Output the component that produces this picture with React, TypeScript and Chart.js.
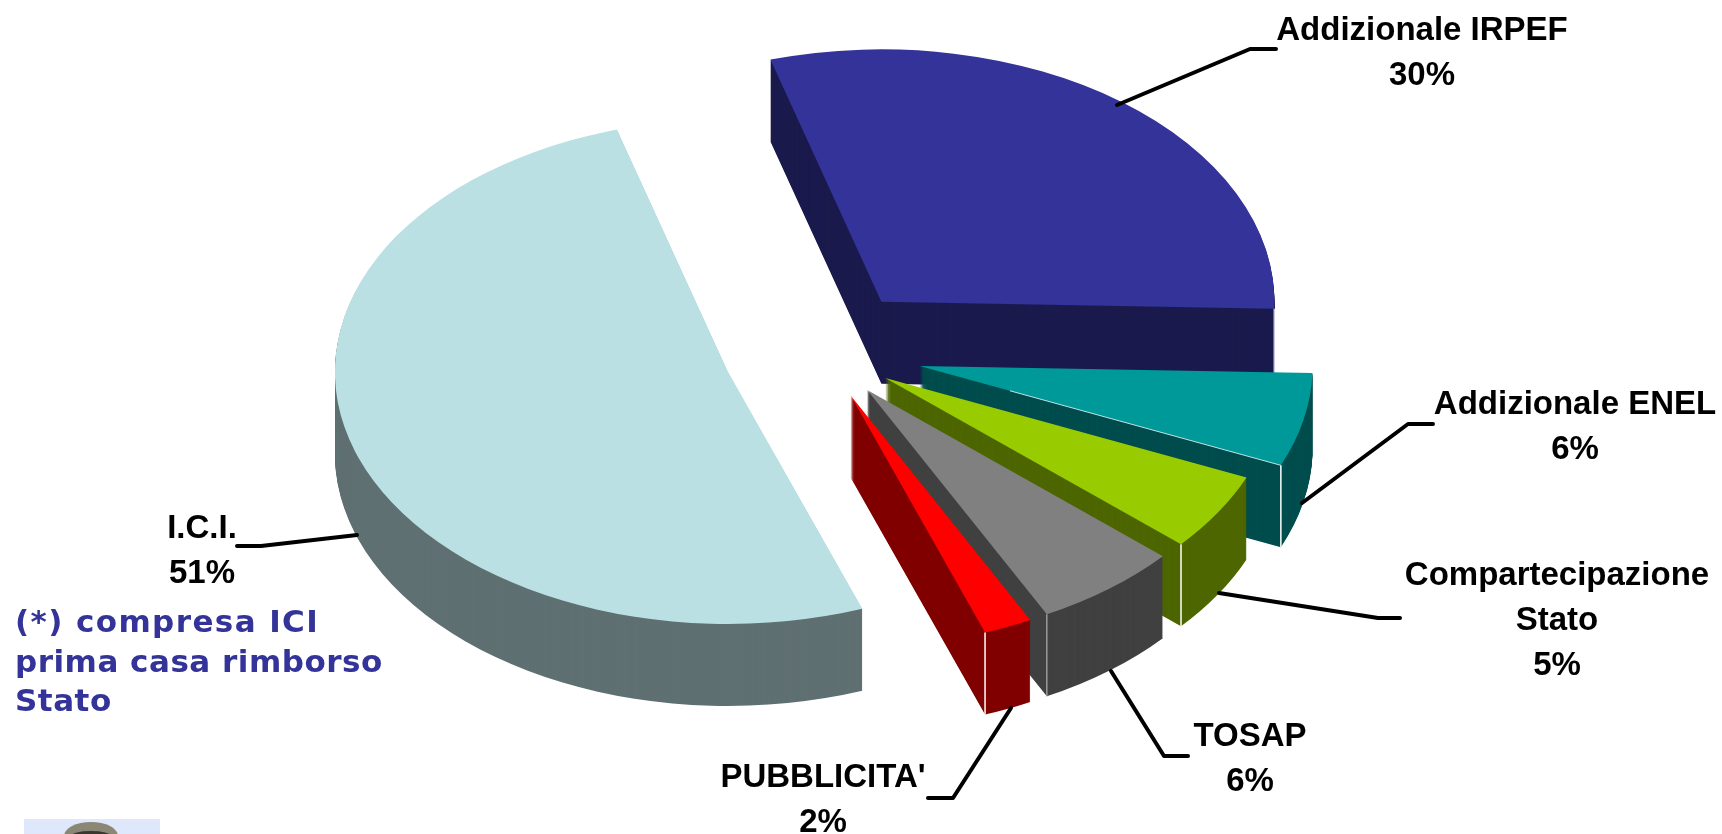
import React, { useEffect, useRef } from "react";
import { Chart, registerables } from "chart.js";

Chart.register(...registerables);

// ---- data ----
const categories = ["I.C.I.", "Addizionale IRPEF", "Addizionale ENEL", "Compartecipazione Stato", "TOSAP", "PUBBLICITA'"];
const labelLines = [["I.C.I."], ["Addizionale IRPEF"], ["Addizionale ENEL"], ["Compartecipazione", "Stato"], ["TOSAP"], ["PUBBLICITA'"]];
const values = [51, 30, 6, 5, 6, 2];
const percentLabels = ["51%", "30%", "6%", "5%", "6%", "2%"];
const noteLines = ["(*) compresa ICI", "prima casa rimborso", "Stato"];

// ---- styles ----
const topColors = ["#BAE0E3", "#333399", "#009999", "#99CC00", "#808080", "#FF0000"];
const sideColors = ["#5F7072", "#1A1A4D", "#004D4D", "#4D6600", "#404040", "#800000"];
const edgeColors = [null, "#C8C8DC", "#FFFFFF", "#FFFFFF", "#9A9A9A", "#FFFFFF"];
const radialEdgeColors = [null, null, "#BFE3E3", null, null, null];
const explode = [392, 396, 404, 304, 300, 296];
const noteSpacing = ["1.4px", "0.5px", "0.5px"];
const ROTATION = 160;
const RADIUS = 393;
const SQUASH = 0.642;
const DEPTH = 82;
const CENTER_X = 821;
const CENTER_Y = 352;

// label layout: centre x, first baseline
const labelPos = [
  [202, 538], [1422, 40], [1575, 414], [1557, 585], [1250, 746], [823, 787],
];
const LINE_GAP = 45;
const leaders = [
  [[357, 535], [261, 546], [237, 546]],
  [[1117, 105], [1250, 49], [1276, 49]],
  [[1302, 503], [1408, 424], [1433, 424]],
  [[1219, 593], [1378, 618], [1400, 618]],
  [[1111, 671], [1164, 756], [1188, 756]],
  [[1011, 708], [953, 798], [928, 798]],
];
const notePos = [15, 632, 39.5];

const pie3d = {
  id: "pie3d",
  beforeDatasetsDraw(chart: any) {
    const ctx = chart.ctx;
    const meta = chart.getDatasetMeta(0);
    const R = meta.controller.outerRadius;
    meta.data.forEach((arc: any, i: number) => {
      const opts = arc.options;
      const mid = (arc.startAngle + arc.endAngle) / 2;
      const o = opts.offset / 4;
      const sliceX = CENTER_X + Math.cos(mid) * o;
      const sliceY = CENTER_Y + SQUASH * Math.sin(mid) * o;
      const paint = (dy: number) => {
        ctx.save();
        ctx.setTransform(1, 0, 0, SQUASH, sliceX - arc.x, sliceY - SQUASH * arc.y + dy);
        arc.draw(ctx);
        ctx.restore();
      };
      // the offset is applied by the transform above, in the squashed plane
      arc.options = { ...opts, offset: 0, backgroundColor: sideColors[i] };
      for (let dy = DEPTH; dy >= 1; dy--) paint(dy);
      arc.options = { ...opts, offset: 0 };
      paint(0);
      arc.options = opts;

      const cx = sliceX + Math.cos(arc.endAngle) * R;
      const cy = sliceY + SQUASH * Math.sin(arc.endAngle) * R;
      ctx.save();
      if (edgeColors[i]) {
        ctx.strokeStyle = edgeColors[i];
        ctx.lineWidth = 1.5;
        ctx.beginPath();
        ctx.moveTo(cx, cy);
        ctx.lineTo(cx, cy + DEPTH);
        ctx.stroke();
      }
      if (radialEdgeColors[i]) {
        ctx.strokeStyle = radialEdgeColors[i];
        ctx.lineWidth = 1;
        ctx.beginPath();
        ctx.moveTo(sliceX + (cx - sliceX) * 0.25, sliceY + (cy - sliceY) * 0.25);
        ctx.lineTo(cx, cy);
        ctx.stroke();
      }
      ctx.restore();
    });
    return false;
  },
  afterDraw(chart: any) {
    const ctx = chart.ctx;
    ctx.save();
    // leader lines
    ctx.strokeStyle = "#000";
    ctx.lineWidth = 4;
    ctx.lineCap = "round";
    ctx.lineJoin = "round";
    leaders.forEach((pts) => {
      ctx.beginPath();
      pts.forEach(([x, y], k) => (k ? ctx.lineTo(x, y) : ctx.moveTo(x, y)));
      ctx.stroke();
    });
    // category labels
    ctx.fillStyle = "#000";
    ctx.font = "bold 33px 'Liberation Sans'";
    ctx.textAlign = "center";
    ctx.textBaseline = "alphabetic";
    categories.forEach((_, i) => {
      const [x, y] = labelPos[i];
      const lines = [...labelLines[i], percentLabels[i]];
      lines.forEach((t, k) => ctx.fillText(t, x, y + k * LINE_GAP));
    });
    // note
    ctx.fillStyle = "#333399";
    ctx.font = "bold 31px 'DejaVu Sans'";
    ctx.textAlign = "left";
    noteLines.forEach((t, k) => {
      (ctx as any).letterSpacing = noteSpacing[k];
      ctx.fillText(t, notePos[0], notePos[1] + k * notePos[2]);
    });
    (ctx as any).letterSpacing = "0px";
    // crest fragment at the page bottom
    ctx.fillStyle = "#DFE8FB";
    ctx.fillRect(24, 819, 136, 15);
    ctx.fillStyle = "#8A8774";
    ctx.beginPath();
    ctx.ellipse(91, 836, 27, 14, 0, Math.PI, 0);
    ctx.fill();
    ctx.fillStyle = "#3A382E";
    ctx.beginPath();
    ctx.ellipse(91, 836, 20, 5, 0, Math.PI, 0);
    ctx.fill();
    ctx.restore();
  },
};

export default function App() {
  const ref = useRef<HTMLCanvasElement>(null);
  useEffect(() => {
    const chart = new Chart(ref.current as HTMLCanvasElement, {
      type: "pie",
      data: {
        labels: categories,
        datasets: [
          {
            data: values,
            backgroundColor: topColors,
            borderWidth: 0,
            offset: explode,
          },
        ],
      },
      options: {
        responsive: false,
        animation: false,
        rotation: ROTATION,
        radius: RADIUS,
        events: [],
        plugins: { legend: { display: false }, tooltip: { enabled: false } },
      },
      plugins: [pie3d],
    } as any);
    return () => chart.destroy();
  }, []);
  return (
    <canvas
      ref={ref}
      width={1722}
      height={834}
      style={{ position: "fixed", left: 0, top: 0, width: 1722, height: 834, background: "#fff" }}
    />
  );
}
